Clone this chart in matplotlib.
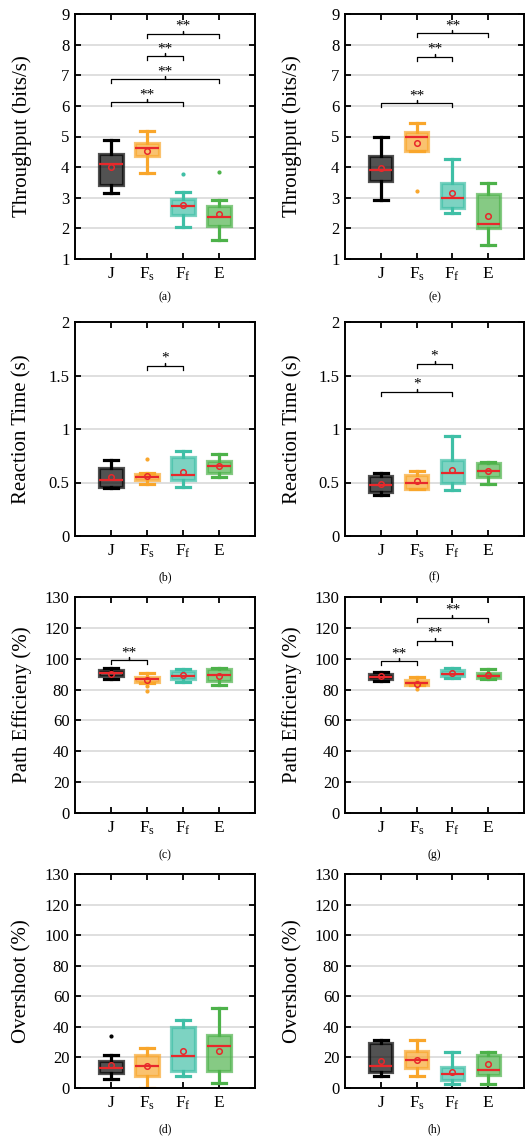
import matplotlib.pyplot as plt

plt.rcParams['font.family'] = ['Liberation Serif', 'DejaVu Serif']
plt.rcParams['mathtext.fontset'] = 'stix'

groups = ["J", r"F$_\mathregular{s}$", r"F$_\mathregular{f}$", "E"]
edge_colors = ["#000000", "#F9A62B", "#3FBFA6", "#4DB24A"]

# each row: whisker low, q1, median, q3, whisker high, mean
throughput_a = [[3.15, 3.42, 4.09, 4.43, 4.89, 4.00],
                [3.80, 4.35, 4.64, 4.80, 5.18, 4.53],
                [2.03, 2.43, 2.74, 2.96, 3.18, 2.77],
                [1.61, 2.09, 2.38, 2.74, 2.92, 2.47]]
throughput_a_out = [[], [], [3.79], [3.83]]
throughput_a_sig = [(1, 3, 6.12, "**"), (1, 4, 6.87, "**"), (2, 3, 7.62, "**"), (2, 4, 8.36, "**")]

throughput_e = [[2.93, 3.55, 3.89, 4.37, 5.00, 3.97],
                [4.54, 4.54, 5.00, 5.16, 5.43, 4.80],
                [2.50, 2.66, 3.00, 3.48, 4.27, 3.15],
                [1.47, 2.00, 2.15, 3.13, 3.48, 2.41]]
throughput_e_out = [[], [3.21], [], []]
throughput_e_sig = [(1, 3, 6.09, "**"), (2, 3, 7.61, "**"), (2, 4, 8.37, "**")]

reaction_b = [[0.45, 0.46, 0.52, 0.64, 0.71, 0.55],
              [0.49, 0.52, 0.55, 0.58, 0.59, 0.56],
              [0.46, 0.52, 0.57, 0.74, 0.79, 0.60],
              [0.55, 0.59, 0.656, 0.70, 0.765, 0.656]]
reaction_b_out = [[], [0.72], [], []]
reaction_b_sig = [(2, 3, 1.59, "*")]

reaction_f = [[0.38, 0.41, 0.48, 0.56, 0.59, 0.485],
              [0.44, 0.44, 0.50, 0.57, 0.61, 0.51],
              [0.43, 0.50, 0.59, 0.71, 0.93, 0.62],
              [0.49, 0.55, 0.61, 0.68, 0.69, 0.61]]
reaction_f_out = [[], [], [], []]
reaction_f_sig = [(1, 3, 1.35, "*"), (2, 3, 1.61, "*")]

path_c = [[86.9, 88.6, 90.8, 92.5, 94.3, 90.4],
          [84.0, 85.2, 86.9, 88.3, 90.8, 86.0],
          [84.8, 86.7, 89.1, 91.9, 93.4, 89.3],
          [83.0, 85.4, 89.5, 93.2, 94.0, 88.9]]
path_c_out = [[], [82.2, 79.0], [], []]
path_c_sig = [(1, 2, 99.0, "**")]

path_g = [[85.4, 86.9, 88.2, 90.4, 91.5, 88.6],
          [82.8, 82.8, 84.1, 86.1, 88.2, 83.9],
          [87.8, 88.6, 90.0, 92.5, 94.0, 90.8],
          [87.1, 87.8, 88.9, 90.8, 93.2, 89.3]]
path_g_out = [[], [80.6], [], []]
path_g_sig = [(1, 2, 98.4, "**"), (2, 3, 111.6, "**"), (2, 4, 126.5, "**")]

overshoot_d = [[5.6, 9.5, 13.2, 17.5, 21.4, 15.1],
               [0.0, 7.8, 14.5, 21.8, 26.3, 14.5],
               [8.0, 11.2, 20.9, 39.7, 44.5, 24.0],
               [3.0, 11.0, 27.4, 34.8, 52.2, 24.4]]
overshoot_d_out = [[34.3], [], [], []]

overshoot_h = [[7.8, 10.6, 14.2, 29.4, 31.5, 17.5],
               [7.8, 13.2, 18.1, 24.2, 31.1, 18.6],
               [2.6, 5.2, 9.3, 13.8, 23.5, 10.6],
               [2.6, 8.2, 11.7, 21.4, 23.5, 15.5]]
overshoot_h_out = [[], [], [], []]

tp_ticks = [1, 2, 3, 4, 5, 6, 7, 8, 9]
rt_ticks = [0, 0.5, 1, 1.5, 2]
rt_labels = ["0", "0.5", "1", "1.5", "2"]
pct_ticks = [0, 20, 40, 60, 80, 100, 120, 140]
pct_labels = ["0", "20", "40", "60", "80", "100", "120", "130"]

W, H = 531, 1140
fig = plt.figure(figsize=(W / 100, H / 100), dpi=100)


def make_axes(x0, x1, y0, y1):
    return fig.add_axes([x0 / W, 1 - y1 / H, (x1 - x0) / W, (y1 - y0) / H])


def draw_panel(ax, rows, outliers, sig, ylim, ticks, labels, ylabel, caption, cap_y):
    stats = []
    for r, out in zip(rows, outliers):
        stats.append({"whislo": r[0], "q1": r[1], "med": r[2], "q3": r[3],
                      "whishi": r[4], "mean": r[5], "fliers": out})
    for i, (st, c) in enumerate(zip(stats, edge_colors)):
        ax.bxp([st], positions=[i + 1], widths=0.64, capwidths=0.39,
               showmeans=True, patch_artist=True,
               boxprops=dict(facecolor=c, edgecolor=c, linewidth=2.3, alpha=0.68),
               whiskerprops=dict(color=c, linewidth=2.3),
               capprops=dict(color=c, linewidth=2.3),
               medianprops=dict(color="#E8282B", linewidth=1.6, solid_capstyle="butt"),
               meanprops=dict(marker="o", markerfacecolor="none", markeredgecolor="#E8282B",
                              markersize=4, markeredgewidth=1.1),
               flierprops=dict(marker="o", markerfacecolor=c, markeredgecolor=c,
                               markersize=2))
    ax.set_xlim(0, 5)
    ax.set_ylim(*ylim)
    ax.set_xticks([1, 2, 3, 4])
    ax.set_xticklabels(groups, fontsize=12.5)
    ax.set_yticks(ticks)
    ax.set_yticklabels(labels, fontsize=12)
    ax.tick_params(direction="in", top=True, right=True, length=4, width=1.3)
    ax.tick_params(axis="x", pad=5)
    ax.tick_params(axis="y", pad=4)
    for s in ax.spines.values():
        s.set_linewidth(1.4)
    ax.set_axisbelow(True)
    ax.yaxis.grid(True, color="#dcdcdc", linewidth=1.3)
    ax.set_ylabel(ylabel, fontsize=15)
    ax.yaxis.set_label_coords(-0.24, 0.5)

    # significance brackets
    h_px = ax.get_position().height * H
    upp = (ylim[1] - ylim[0]) / h_px
    for a, b, y, mark in sig:
        xm = (a + b) / 2
        ax.plot([a, a, xm, xm, xm, b, b],
                [y - 4 * upp, y, y, y + 3 * upp, y, y, y - 4 * upp],
                color="black", linewidth=0.9, clip_on=False)
        ax.text(xm, y + 1 * upp, mark, ha="center", va="bottom", fontsize=11)

    bb = ax.get_position()
    fig.text(bb.x0 + bb.width / 2, 1 - cap_y / H, caption, ha="center", va="center",
             fontsize=8.5)


left = (75, 255)
right = (345, 524)
rows_y = [(14, 259), (322, 536), (597, 813), (874, 1088)]
caps_y = [297, 577, 855, 1129]

draw_panel(make_axes(*left, *rows_y[0]), throughput_a, throughput_a_out, throughput_a_sig,
           (1, 9), tp_ticks, [str(t) for t in tp_ticks], "Throughput (bits/s)", "(a)", caps_y[0])
draw_panel(make_axes(*right, *rows_y[0]), throughput_e, throughput_e_out, throughput_e_sig,
           (1, 9), tp_ticks, [str(t) for t in tp_ticks], "Throughput (bits/s)", "(e)", caps_y[0])
draw_panel(make_axes(*left, *rows_y[1]), reaction_b, reaction_b_out, reaction_b_sig,
           (0, 2), rt_ticks, rt_labels, "Reaction Time (s)", "(b)", caps_y[1])
draw_panel(make_axes(*right, *rows_y[1]), reaction_f, reaction_f_out, reaction_f_sig,
           (0, 2), rt_ticks, rt_labels, "Reaction Time (s)", "(f)", caps_y[1])
draw_panel(make_axes(*left, *rows_y[2]), path_c, path_c_out, path_c_sig,
           (0, 140), pct_ticks, pct_labels, "Path Efficieny (%)", "(c)", caps_y[2])
draw_panel(make_axes(*right, *rows_y[2]), path_g, path_g_out, path_g_sig,
           (0, 140), pct_ticks, pct_labels, "Path Efficieny (%)", "(g)", caps_y[2])
draw_panel(make_axes(*left, *rows_y[3]), overshoot_d, overshoot_d_out, [],
           (0, 140), pct_ticks, pct_labels, "Overshoot (%)", "(d)", caps_y[3])
draw_panel(make_axes(*right, *rows_y[3]), overshoot_h, overshoot_h_out, [],
           (0, 140), pct_ticks, pct_labels, "Overshoot (%)", "(h)", caps_y[3])

fig.savefig("out.png", dpi=100)
